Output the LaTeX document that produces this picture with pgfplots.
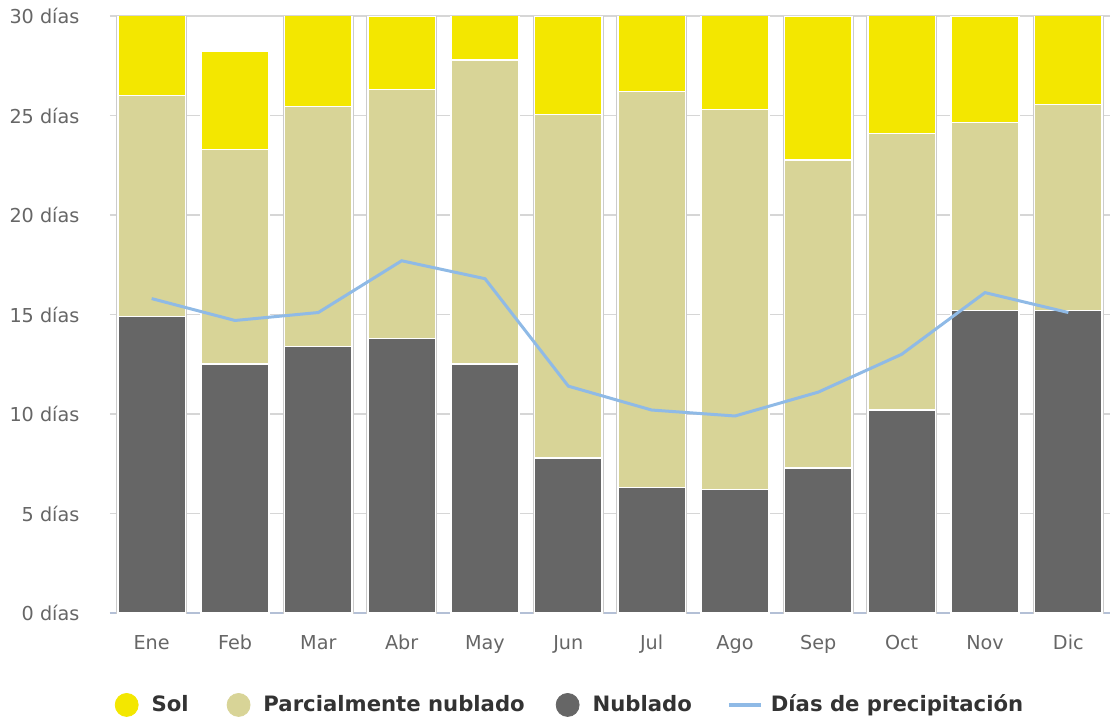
\documentclass[border=0pt]{standalone}
\usepackage{fontspec}
\setmainfont{DejaVu Sans}
\usepackage{pgfplots}
\pgfplotsset{compat=1.18}
\definecolor{solc}{HTML}{F3E700}
\definecolor{parc}{HTML}{D8D497}
\definecolor{nubc}{HTML}{666666}
\definecolor{linec}{HTML}{8FBAE6}
\definecolor{gridc}{HTML}{D6D6D6}
\definecolor{basec}{HTML}{B4C0D6}
\definecolor{tickc}{HTML}{666666}
\definecolor{legc}{HTML}{333333}
\definecolor{edgec}{HTML}{CCCCCC}

\begin{document}
\begin{tikzpicture}
\useasboundingbox (-55pt,-53.5pt) rectangle (500pt,306.5pt);
\pgfplotsset{base/.style={
  scale only axis, width=500pt, height=298.5pt,
  xmin=-0.5, xmax=11.5, ymin=0, ymax=30,
  anchor=south west, at={(0,0)},
}}
% grid, ticks and outer outline of each bar
\begin{axis}[base, ybar, bar width=0.835,
  xtick={0,...,11},
  xticklabels={Ene,Feb,Mar,Abr,May,Jun,Jul,Ago,Sep,Oct,Nov,Dic},
  ytick={0,5,...,30},
  yticklabels={0 días,5 días,10 días,15 días,20 días,25 días,30 días},
  tick style={draw=none},
  tick label style={font=\fontsize{9.6}{11}\selectfont, color=tickc},
  xticklabel style={anchor=base, yshift=-14pt},
  yticklabel style={anchor=east, xshift=-11.8pt},
  ymajorgrids, grid style={gridc, line width=0.6pt},
  axis x line*=bottom, axis y line*=left,
  x axis line style={basec, line width=1pt, -},
  y axis line style={draw=none},
]
\addplot[fill=white, draw=edgec, line width=0.5pt] coordinates {
  (0,31) (1,28.25) (2,31) (3,30) (4,31) (5,30) (6,31) (7,31) (8,30) (9,31) (10,30) (11,31)};
\end{axis}
% stacked bars
\begin{axis}[base, ybar stacked, bar width=0.81, hide axis]
\addplot[fill=nubc, draw=white, line width=0.8pt] coordinates {
  (0,14.9) (1,12.5) (2,13.4) (3,13.8) (4,12.5) (5,7.8) (6,6.3) (7,6.2) (8,7.3) (9,10.2) (10,15.2) (11,15.2)};
\addplot[fill=parc, draw=white, line width=0.8pt] coordinates {
  (0,11.1) (1,10.8) (2,12.05) (3,12.5) (4,15.3) (5,17.25) (6,19.9) (7,19.1) (8,15.45) (9,13.9) (10,9.45) (11,10.35)};
\addplot[fill=solc, draw=white, line width=0.8pt] coordinates {
  (0,5.0) (1,4.95) (2,5.55) (3,3.7) (4,3.2) (5,4.95) (6,4.8) (7,5.7) (8,7.25) (9,6.9) (10,5.35) (11,5.45)};
\end{axis}
% precipitation line and legend
\begin{axis}[base, hide axis,
  legend columns=4,
  legend style={draw=none, fill=none, at={(axis description cs:0.461,-0.154)}, anchor=center,
    font=\bfseries\fontsize{10.6}{12}\selectfont, text=legc,
    /tikz/column 1/.style={column sep=4.5pt},
    /tikz/column 2/.style={column sep=17pt},
    /tikz/column 3/.style={column sep=4.5pt},
    /tikz/column 4/.style={column sep=13.5pt},
    /tikz/column 5/.style={column sep=4.5pt},
    /tikz/column 6/.style={column sep=15.5pt},
    /tikz/column 7/.style={column sep=2pt}},
]
\addlegendimage{legend image code/.code={\fill[solc] (5.75pt,0pt) circle (5.75pt);}}
\addlegendentry{Sol}
\addlegendimage{legend image code/.code={\fill[parc] (5.75pt,0pt) circle (5.75pt);}}
\addlegendentry{Parcialmente nublado}
\addlegendimage{legend image code/.code={\fill[nubc] (5.75pt,0pt) circle (5.75pt);}}
\addlegendentry{Nublado}
\addplot[color=linec, line width=1.5pt, sharp plot, mark=none,
  legend image code/.code={\draw[linec, line width=2pt] (0pt,0pt) -- (16pt,0pt);}] coordinates {
  (0,15.8) (1,14.7) (2,15.1) (3,17.7) (4,16.8) (5,11.4) (6,10.2) (7,9.9) (8,11.1) (9,13.0) (10,16.1) (11,15.1)};
\addlegendentry{Días de precipitación}
\end{axis}
\end{tikzpicture}
\end{document}
